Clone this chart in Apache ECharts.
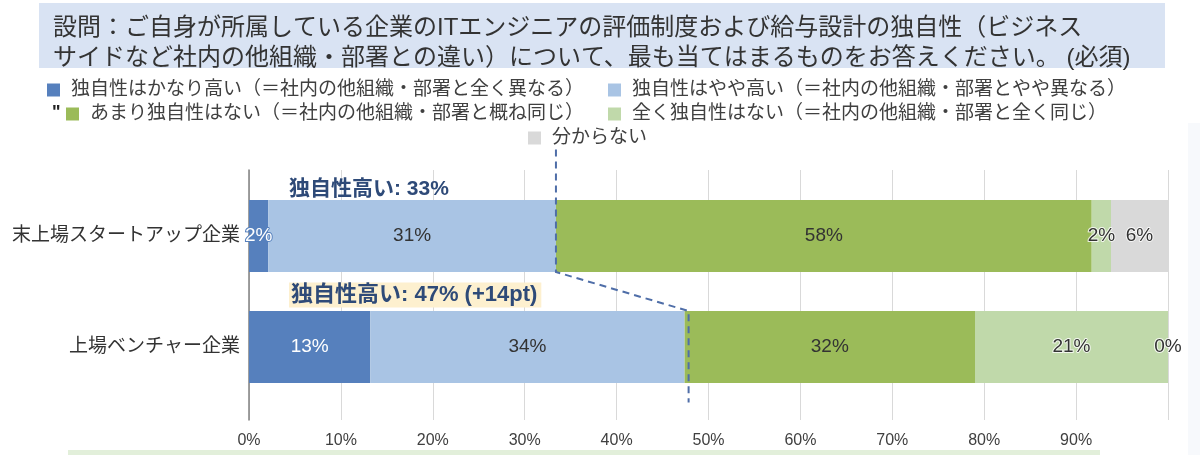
<!DOCTYPE html>
<html>
<head>
<meta charset="utf-8">
<script src="https://cdn.jsdelivr.net/npm/echarts@6/dist/echarts.min.js"></script>
<style>
  html, body { margin: 0; padding: 0; background: #fff; }
  #main { width: 1200px; height: 455px; }
</style>
</head>
<body>
<div id="main"></div>
<script>
var titleText = '設問：ご自身が所属している企業のITエンジニアの評価制度および給与設計の独自性（ビジネス\nサイドなど社内の他組織・部署との違い）について、最も当てはまるものをお答えください。 (必須)';

var categories = ['末上場スタートアップ企業', '上場ベンチャー企業'];
var seriesNames = [
  '独自性はかなり高い（＝社内の他組織・部署と全く異なる）',
  '独自性はやや高い（＝社内の他組織・部署とやや異なる）',
  'あまり独自性はない（＝社内の他組織・部署と概ね同じ）',
  '全く独自性はない（＝社内の他組織・部署と全く同じ）',
  '分からない'
];
var veryHigh = [2.1, 13.2];
var slightlyHigh = [31.3, 34.2];
var notMuch = [58.3, 31.6];
var notAtAll = [2.1, 21.0];
var unknown = [6.2, 0];
var xTicks = [0, 10, 20, 30, 40, 50, 60, 70, 80, 90];

var colors = ['#5680bd', '#a9c4e4', '#9bbb59', '#c0d9aa', '#d9d9d9'];
var values = [veryHigh, slightlyHigh, notMuch, notAtAll, unknown];
var font = "'Liberation Sans', 'Noto Sans CJK JP', sans-serif";

// 独自性高い = かなり高い + やや高い
var high0 = veryHigh[0] + slightlyHigh[0];
var high1 = veryHigh[1] + slightlyHigh[1];
var highR0 = Math.round(high0);
var highR1 = Math.round(high1);

var chart = echarts.init(document.getElementById('main'));

var barSeries = values.map(function (arr, i) {
  var lbl = {
    show: true,
    position: 'inside',
    fontSize: 19,
    fontFamily: font,
    color: i === 0 ? '#fff' : '#333',
    formatter: function (p) { return Math.round(p.value) + '%'; }
  };
  if (i === 0) { lbl.textBorderColor = '#5680bd'; lbl.textBorderWidth = 2; }
  if (i >= 3) { lbl.textBorderColor = 'rgba(255,255,255,0.8)'; lbl.textBorderWidth = 2; }
  return {
    name: seriesNames[i],
    type: 'bar',
    stack: 'total',
    xAxisIndex: 1,
    yAxisIndex: 1,
    barWidth: 72,
    itemStyle: { color: colors[i] },
    label: lbl,
    emphasis: { disabled: true },
    data: arr
  };
});

barSeries.push({
  type: 'custom',
  xAxisIndex: 1,
  yAxisIndex: 1,
  clip: false,
  z: 10,
  data: [[high0, 0, high1, 1]],
  renderItem: function (params, api) {
    var a = api.coord([api.value(0), api.value(1)]);
    var b = api.coord([api.value(2), api.value(3)]);
    var x0 = api.coord([0, 0])[0];
    var band = api.size([0, 1])[1];
    var half = 36;
    return {
      type: 'group',
      children: [
        {
          type: 'polyline',
          shape: { points: [[a[0], a[1] - band * 0.78], [a[0], a[1] + half], [b[0] + 4, b[1] - half], [b[0] + 4, b[1] + band * 0.5]] },
          style: { stroke: '#4f6ea8', lineWidth: 2, lineDash: [7, 5], fill: null }
        },
        {
          type: 'text',
          x: x0 + 40, y: a[1] - 47,
          style: {
            text: '独自性高い: ' + highR0 + '%',
            font: 'bold 21px ' + font, fill: '#2e4a78', verticalAlign: 'middle'
          }
        },
        {
          type: 'text',
          x: x0 + 40, y: b[1] - 52,
          style: {
            text: '独自性高い: ' + highR1 + '% (+' + (highR1 - highR0) + 'pt)',
            font: 'bold 22px ' + font, fill: '#2e4a78', verticalAlign: 'middle',
            backgroundColor: '#fdf0cf', padding: [2, 4, 1, 2]
          }
        }
      ]
    };
  }
});

function legendAt(i, left, top) {
  return {
    data: [seriesNames[i]],
    left: left,
    top: top,
    padding: 0,
    icon: 'rect',
    itemWidth: 13,
    itemHeight: 13,
    selectedMode: false,
    textStyle: { fontSize: 19, color: '#404040', lineHeight: 20, fontFamily: font, padding: [0, 0, 0, 6] }
  };
}

var option = {
  animation: false,
  textStyle: { fontFamily: font },
  title: {
    text: titleText,
    left: 53,
    top: 13,
    padding: 0,
    textStyle: { fontSize: 24, lineHeight: 30, fontWeight: 'normal', color: '#333', fontFamily: font }
  },
  legend: [
    legendAt(0, 47, 80),
    legendAt(1, 608, 80),
    legendAt(2, 66, 104),
    legendAt(3, 608, 104),
    legendAt(4, 528, 128)
  ],
  graphic: [
    { type: 'rect', z: -10, shape: { x: 39, y: 3, width: 1126, height: 65 }, style: { fill: '#d9e3f3' } },
    { type: 'rect', z: -10, shape: { x: 1188, y: 123, width: 12, height: 332 }, style: { fill: '#f7f9fc' } },
    { type: 'rect', z: -10, shape: { x: 68, y: 450, width: 1032, height: 5 }, style: { fill: '#e2efda' } },
    { type: 'text', x: 52, y: 113, style: { text: '"', font: 'bold 18px ' + font, fill: '#222', verticalAlign: 'middle' } }
  ],
  grid: [
    { left: 249, right: 32, top: 170, height: 250 },
    { left: 249, right: 32, top: 180.5, height: 222 }
  ],
  xAxis: [
    {
      gridIndex: 0, type: 'value', min: 0, max: 100, interval: 10,
      axisLine: { show: false }, axisTick: { show: false },
      splitLine: { lineStyle: { color: '#d9d9d9', width: 1 } },
      axisLabel: {
        fontSize: 16, color: '#404040', margin: 13, fontFamily: font,
        formatter: function (v) { return xTicks.indexOf(v) >= 0 ? v + '%' : ''; }
      }
    },
    { gridIndex: 1, type: 'value', min: 0, max: 100, show: false }
  ],
  yAxis: [
    {
      gridIndex: 0, type: 'category', data: [''],
      axisLine: { show: true, lineStyle: { color: '#808080', width: 1.5 } },
      axisTick: { show: false }, axisLabel: { show: false }
    },
    {
      gridIndex: 1, type: 'category', data: categories, inverse: true,
      axisLine: { show: false }, axisTick: { show: false },
      axisLabel: { fontSize: 19, color: '#333', margin: 9, fontFamily: font }
    }
  ],
  series: barSeries
};

chart.setOption(option);
</script>
</body>
</html>
